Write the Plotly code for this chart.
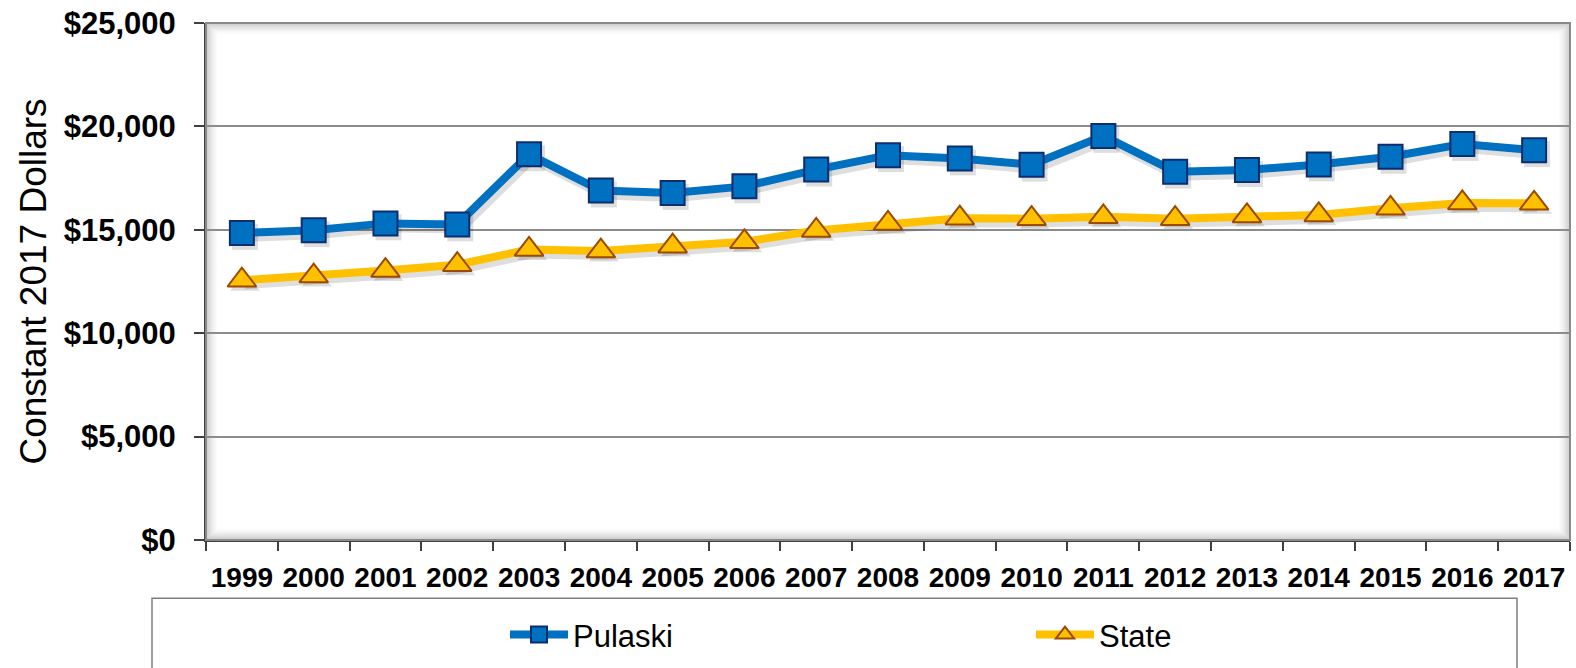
import plotly.graph_objects as go

# Annual values in constant 2017 dollars
years = list(range(1999, 2018))
pulaski = [14850, 14980, 15310, 15260, 18650, 16900, 16780, 17100, 17910, 18610,
           18450, 18150, 19540, 17810, 17890, 18160, 18530, 19150, 18850]
state = [12560, 12760, 13030, 13310, 14050, 13970, 14210, 14420, 14970, 15310,
         15560, 15540, 15630, 15540, 15670, 15720, 16040, 16300, 16280]
y_ticks = [0, 5000, 10000, 15000, 20000, 25000]

W, H = 1576, 668
L, R, T, B = 206, 1570, 21, 544  # plot area in pixels
PW, PH = R - L, B - T
Y_MAX = 25000


def px_x(p):
    return (p - L) / PW


def px_y(p):
    return (B - p) / PH


x_per_px = 19 / PW
y_per_px = Y_MAX / PH

fig = go.Figure()

# soft drop shadows under both series
for vals in (pulaski, state):
    fig.add_trace(go.Scatter(
        x=[yr + 3 * x_per_px for yr in years],
        y=[v - 4 * y_per_px for v in vals],
        mode="lines+markers",
        line=dict(color="rgba(0,0,0,0.13)", width=10),
        marker=dict(symbol="square" if vals is pulaski else "triangle-up",
                    size=26, color="rgba(0,0,0,0.13)", line=dict(width=0)),
        hoverinfo="skip", showlegend=False,
    ))

fig.add_trace(go.Scatter(
    x=years, y=pulaski, name="Pulaski", mode="lines+markers",
    line=dict(color="#0070C0", width=8),
    marker=dict(symbol="square", size=24, color="#0070C0",
                line=dict(color="#0D2D6E", width=2)),
))
fig.add_trace(go.Scatter(
    x=years, y=state, name="State", mode="lines+markers",
    line=dict(color="#FFC000", width=8),
    marker=dict(symbol="triangle-up", size=25, color="#FFC000",
                line=dict(color="#9C4A00", width=2)),
))

shapes = []
# inner shadow along the plot frame
for k in range(12):
    a = 0.2 * (1 - k / 12) ** 1.6
    shapes.append(dict(
        type="rect", xref="paper", yref="paper",
        x0=px_x(L + k + 1), x1=px_x(R - k - 1), y0=px_y(B - k - 1), y1=px_y(T + k + 1),
        line=dict(color=f"rgba(0,0,0,{a:.3f})", width=1), layer="below",
    ))
# plot frame
shapes.append(dict(type="rect", xref="paper", yref="paper", x0=0, x1=1, y0=0, y1=1,
                   line=dict(color="#8A8A8A", width=2)))
# legend box
shapes.append(dict(type="rect", xref="paper", yref="paper",
                   x0=px_x(152), x1=px_x(1517), y0=px_y(690), y1=px_y(603),
                   line=dict(color="#7F7F7F", width=1.5)))

fig.update_layout(
    width=W, height=H,
    margin=dict(l=L, r=W - R, t=T, b=H - B),
    paper_bgcolor="white", plot_bgcolor="white",
    shapes=shapes,
    font=dict(family="Liberation Sans, Arial", color="black"),
    showlegend=True,
    legend=dict(
        orientation="h", xanchor="left", yanchor="middle",
        x=px_x(505), y=px_y(640),
        font=dict(size=31, family="Liberation Sans, Arial", color="black"),
        itemwidth=58, entrywidth=453, bgcolor="rgba(0,0,0,0)",
        traceorder="normal",
    ),
    xaxis=dict(
        range=[1998.5, 2017.5], tickvals=years, ticktext=[str(y) for y in years],
        ticks="", showgrid=False, zeroline=False,
        showline=True, linecolor="#404040", linewidth=2,
        tickfont=dict(size=28, weight="bold", family="Liberation Sans, Arial"),
        minor=dict(tickvals=[y - 0.5 for y in years] + [2017.5], ticks="outside",
                   ticklen=9, tickcolor="#404040", tickwidth=1.5, showgrid=False),
        ticklabelstandoff=11,
        fixedrange=True,
    ),
    yaxis=dict(
        range=[0, Y_MAX], tickvals=y_ticks,
        ticktext=[f"${v:,}" for v in y_ticks],
        ticks="outside", ticklen=10, tickcolor="#404040", tickwidth=1.5,
        showgrid=True, gridcolor="#8C8C8C", gridwidth=1.5,
        zeroline=False, showline=True, linecolor="#404040", linewidth=2,
        tickfont=dict(size=31, weight="bold", family="Liberation Sans, Arial"),
        ticklabelstandoff=12,
        title=dict(text="Constant 2017 Dollars", standoff=6,
                   font=dict(size=37, family="Liberation Sans, Arial")),
        fixedrange=True,
    ),
)

fig.write_html("out.html")
